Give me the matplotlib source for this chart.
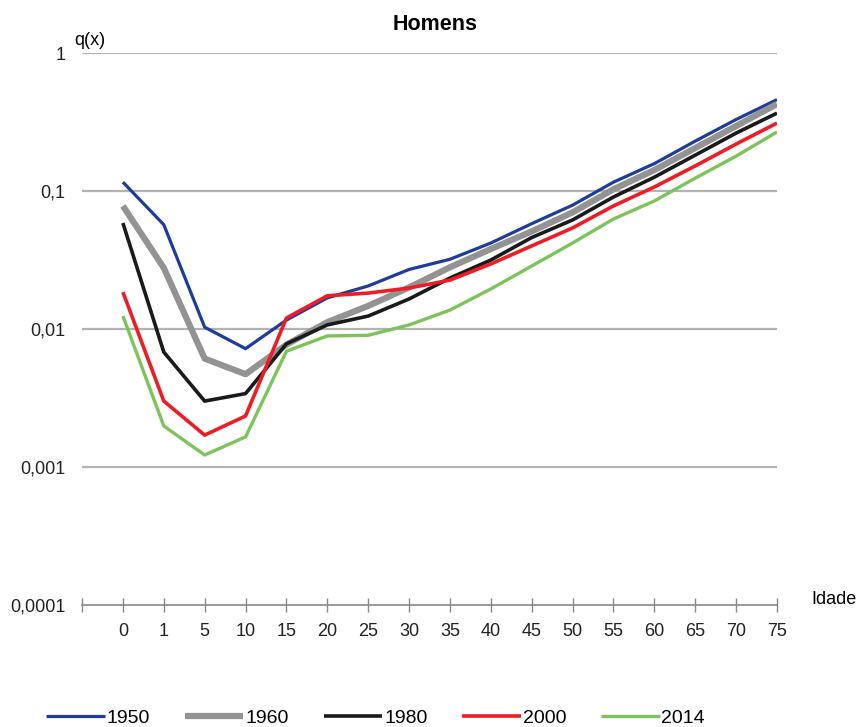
import matplotlib
matplotlib.use('Agg')
from matplotlib import pyplot as plt

# dados: probabilidade de morte q(x), homens
idades = ['0', '1', '5', '10', '15', '20', '25', '30', '35', '40',
          '45', '50', '55', '60', '65', '70', '75']
q1950 = [0.116, 0.057, 0.0103, 0.0072, 0.0116, 0.0168, 0.0205, 0.027, 0.032,
         0.042, 0.058, 0.079, 0.116, 0.158, 0.23, 0.33, 0.46]
q1960 = [0.078, 0.0277, 0.0061, 0.0047, 0.0077, 0.0112, 0.0147, 0.020, 0.028,
         0.038, 0.051, 0.070, 0.103, 0.142, 0.205, 0.296, 0.427]
q1980 = [0.0586, 0.0068, 0.0030, 0.0034, 0.0078, 0.0107, 0.0124, 0.0165, 0.0234,
         0.0316, 0.046, 0.0617, 0.0905, 0.126, 0.182, 0.263, 0.367]
q2000 = [0.0185, 0.0030, 0.0017, 0.00234, 0.012, 0.0174, 0.0182, 0.0198, 0.0226,
         0.0296, 0.040, 0.054, 0.078, 0.107, 0.152, 0.219, 0.311]
q2014 = [0.0124, 0.00198, 0.00122, 0.00165, 0.0069, 0.0089, 0.0090, 0.0107, 0.0137,
         0.0195, 0.0286, 0.042, 0.0627, 0.0847, 0.124, 0.179, 0.268]

series = [('1950', q1950, '#1f3c9c', 2.3),
          ('1960', q1960, '#939393', 4.5),
          ('1980', q1980, '#1a1a1a', 2.6),
          ('2000', q2000, '#ee1c25', 2.6),
          ('2014', q2014, '#7dc35b', 2.4)]

plt.rcParams['font.family'] = ['Liberation Sans', 'DejaVu Sans']

fig = plt.figure(figsize=(8.58, 7.27), dpi=100)
ax = fig.add_axes([0.0956, 0.168, 0.81, 0.759])

x = list(range(len(idades)))
for nome, vals, cor, lw in series:
    ax.plot(x, vals, color=cor, lw=lw, label=nome, solid_capstyle='butt', zorder=3)

ax.set_yscale('log')
ax.set_ylim(0.0001, 1)
ax.set_xlim(-1, len(idades) - 1)

ax.set_yticks([1, 0.1, 0.01, 0.001, 0.0001])
ax.set_yticklabels(['1', '0,1', '0,01', '0,001', '0,0001'], fontsize=13, color='#222222')
ax.yaxis.set_minor_locator(matplotlib.ticker.NullLocator())
ax.tick_params(axis='y', length=0, pad=12)
for v in [1, 0.1, 0.01, 0.001]:
    ax.axhline(v, color='#b3b3b3', lw=1.6, zorder=1)

ax.set_xticks(range(-1, len(idades)))
ax.set_xticklabels([''] + idades, fontsize=13, color='#222222')
ax.tick_params(axis='x', direction='inout', length=10, width=1, color='#888888', pad=8)

for s in ['top', 'right', 'left']:
    ax.spines[s].set_visible(False)
ax.spines['bottom'].set_color('#888888')
ax.spines['bottom'].set_linewidth(1.2)

fig.text(0.507, 0.966, 'Homens', ha='center', va='center', fontsize=15.5, fontweight='bold')
fig.text(0.105, 0.944, 'q(x)', ha='center', va='center', fontsize=13)
fig.text(0.972, 0.175, 'Idade', ha='center', va='center', fontsize=13)

fig.legend(loc='lower center', ncol=5, bbox_to_anchor=(0.438, -0.024), frameon=False,
           fontsize=14, handlelength=3, handletextpad=0.1, columnspacing=1.8)

fig.savefig('out.png', dpi=100)
